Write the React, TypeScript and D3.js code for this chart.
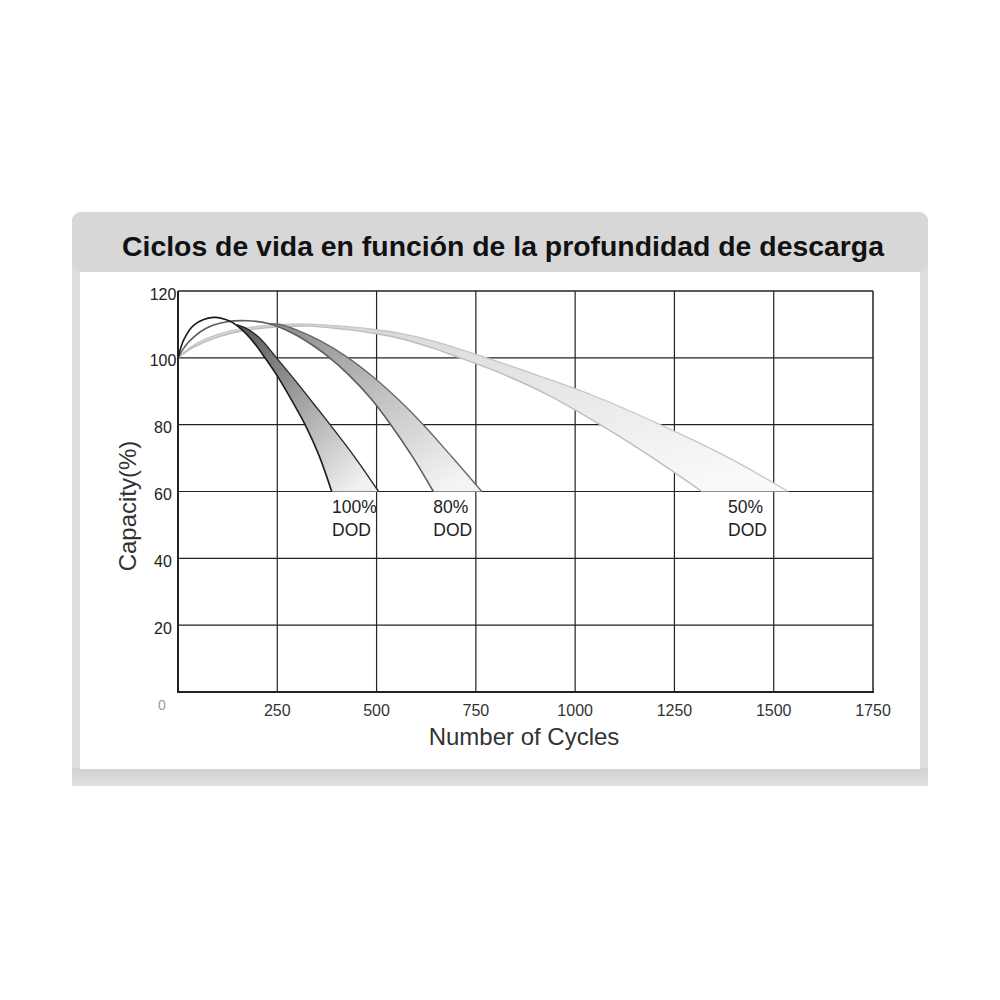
import React from "react";
import * as d3 from "d3";

type P = [number, number];

const title = "Ciclos de vida en función de la profundidad de descarga";
const xLabel = "Number of Cycles";
const yLabel = "Capacity(%)";
const xTicks = [0, 250, 500, 750, 1000, 1250, 1500, 1750];
const yTicks = [0, 20, 40, 60, 80, 100, 120];

// [cycles, capacity %]
const dod100Inner: P[] = [[0, 100], [15, 105.5], [40, 109.8], [89, 112.1], [130, 111], [160, 108.5], [190, 104.7], [219, 100], [253, 94], [290, 86.5], [320, 80], [355, 70.8], [387, 60]];
const dod100Outer: P[] = [[148, 109.9], [175, 108.6], [205, 106], [248, 100], [300, 92.5], [340, 86.5], [383, 80], [445, 70.3], [505, 60]];
const dod80Inner: P[] = [[0, 100], [25, 104.5], [70, 108.8], [120, 110.7], [175, 111.1], [230, 110.2], [290, 107.3], [340, 103.7], [379, 100.3], [430, 94.9], [485, 87.9], [534, 80.3], [590, 70.5], [643, 60]];
const dod80Outer: P[] = [[230, 110.2], [260, 109.9], [300, 108.3], [360, 105], [425, 100.3], [490, 94.4], [555, 87.5], [620, 79.7], [690, 70.3], [765, 60]];
const dod50Inner: P[] = [[0, 100], [40, 103.2], [100, 106.2], [180, 108.4], [260, 109.3], [330, 109.5], [420, 108.5], [500, 107.2], [559, 105.8], [640, 103], [710, 100], [800, 96], [930, 89], [1063, 80], [1190, 70.5], [1319, 60]];
const dod50Outer: P[] = [[0, 100], [40, 103.8], [100, 107], [180, 109.1], [260, 110], [330, 110.1], [420, 109.4], [500, 108.4], [560, 107.3], [650, 104.8], [777, 100], [900, 95], [1050, 88.5], [1214, 80], [1380, 70.5], [1537, 60]];

const labels = [
  { name: "100%", sub: "DOD", x: 388 },
  { name: "80%", sub: "DOD", x: 643 },
  { name: "50%", sub: "DOD", x: 1385 },
];

const bands = [
  { id: "g50", inner: dod50Inner, outer: dod50Outer, c0: "#d2d2d2", c1: "#f9f9f9", sIn: "#bdbdbd", sOut: "#c6c6c6", wIn: 1.4, wOut: 1.3 },
  { id: "g80", inner: dod80Inner, outer: dod80Outer, c0: "#8a8a8a", c1: "#f4f4f4", sIn: "#5e5e5e", sOut: "#6a6a6a", wIn: 1.6, wOut: 1.4 },
  { id: "g100", inner: dod100Inner, outer: dod100Outer, c0: "#555555", c1: "#f0f0f0", sIn: "#1a1a1a", sOut: "#2a2a2a", wIn: 1.6, wOut: 1.4 },
];

const FONT = "'Liberation Sans', Arial, Helvetica, sans-serif";

export default function App() {
  const left = 178, right = 873, top = 291, bottom = 692;
  const x = d3.scaleLinear().domain([0, 1750]).range([left, right]);
  const y = d3.scaleLinear().domain([0, 120]).range([bottom, top]);
  const line = d3
    .line<P>()
    .x((d) => x(d[0]))
    .y((d) => y(d[1]))
    .curve(d3.curveCatmullRom.alpha(0.5));

  const bandPath = (inner: P[], outer: P[]) => {
    const start = outer[0][0];
    const innerPart = inner.filter((p) => p[0] >= start);
    const a = line(innerPart) || "";
    const b = (line(outer.slice().reverse()) || "").replace(/^M/, "L");
    return a + b + "Z";
  };

  return (
    <svg width={1000} height={1000} style={{ position: "absolute", left: 0, top: 0, display: "block", background: "#fff" }}>
      <defs>
        {bands.map((b) => (
          <linearGradient key={b.id} id={b.id} x1="0" y1="0" x2="0.8" y2="1">
            <stop offset="0" stopColor={b.c0} />
            <stop offset="0.45" stopColor={d3.interpolateRgb(b.c0, b.c1)(0.45)} />
            <stop offset="1" stopColor={b.c1} />
          </linearGradient>
        ))}
        <linearGradient id="frameBottom" x1="0" y1="0" x2="0" y2="1">
          <stop offset="0" stopColor="#d0d0d0" />
          <stop offset="1" stopColor="#e2e2e2" />
        </linearGradient>
      </defs>

      {/* frame */}
      <rect x={72} y={212} width={856} height={574} rx={9} fill="#dedede" />
      <rect x={72} y={212} width={856} height={60} rx={9} fill="#d7d7d7" />
      <rect x={72} y={768} width={856} height={18} fill="url(#frameBottom)" />
      <rect x={80} y={272} width={840} height={497} fill="#ffffff" />

      <text x={503} y={256} textAnchor="middle" fontFamily={FONT} fontWeight="bold" fontSize={28.4} fill="#111">
        {title}
      </text>

      {/* grid */}
      <g stroke="#222" strokeWidth={1.2}>
        {xTicks.filter((t) => t > 0 && t < 1750).map((t) => (
          <line key={"vx" + t} x1={x(t)} x2={x(t)} y1={top} y2={bottom} />
        ))}
        {yTicks.filter((t) => t > 0 && t < 120).map((t) => (
          <line key={"hy" + t} x1={left} x2={right} y1={y(t)} y2={y(t)} />
        ))}
      </g>

      {/* bands */}
      {bands.map((b) => (
        <g key={b.id}>
          <path d={bandPath(b.inner, b.outer)} fill={`url(#${b.id})`} stroke="none" />
          <path d={line(b.outer) || ""} fill="none" stroke={b.sOut} strokeWidth={b.wOut} />
          <path d={line(b.inner) || ""} fill="none" stroke={b.sIn} strokeWidth={b.wIn} />
        </g>
      ))}

      {/* border / axes */}
      <line x1={left} x2={right} y1={top} y2={top} stroke="#222" strokeWidth={1.5} />
      <line x1={right} x2={right} y1={top} y2={bottom} stroke="#222" strokeWidth={1.5} />
      <line x1={left} x2={left} y1={top} y2={bottom + 1} stroke="#222" strokeWidth={2} />
      <line x1={left} x2={right + 1} y1={bottom} y2={bottom} stroke="#222" strokeWidth={2} />

      {/* DOD labels */}
      {labels.map((l) => (
        <g key={l.name} fontFamily={FONT} fontSize={17.5} fill="#222">
          <text x={x(l.x)} y={y(60) + 21}>{l.name}</text>
          <text x={x(l.x)} y={y(60) + 44}>{l.sub}</text>
        </g>
      ))}

      {/* y tick labels */}
      {yTicks.filter((t) => t > 0).map((t) => (
        <text key={"yl" + t} x={163} y={y(t) + 8.5} textAnchor="middle" fontFamily={FONT} fontSize={16} fill="#222">
          {t}
        </text>
      ))}
      <text x={162} y={710} textAnchor="middle" fontFamily={FONT} fontSize={14} fill="#9a9a9a">
        0
      </text>

      {/* x tick labels */}
      {xTicks.filter((t) => t > 0).map((t) => (
        <text key={"xl" + t} x={x(t)} y={716} textAnchor="middle" fontFamily={FONT} fontSize={16} fill="#333">
          {t}
        </text>
      ))}

      <text x={524} y={745} textAnchor="middle" fontFamily={FONT} fontSize={24} fill="#333">
        {xLabel}
      </text>
      <text
        transform={`translate(136, 506) rotate(-90)`}
        textAnchor="middle"
        fontFamily={FONT}
        fontSize={24}
        fill="#333"
      >
        {yLabel}
      </text>
    </svg>
  );
}
